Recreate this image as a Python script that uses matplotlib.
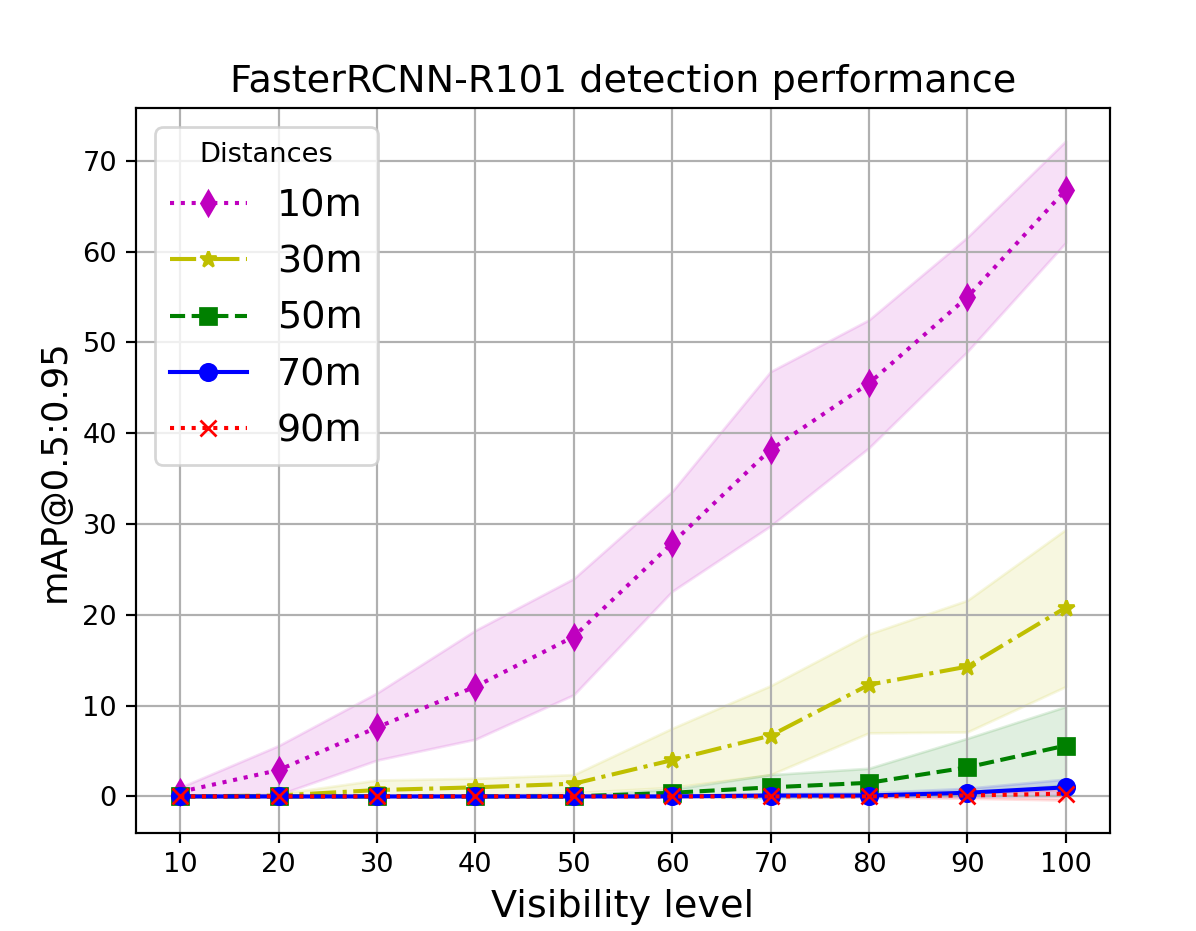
import numpy as np
import matplotlib
matplotlib.use("Agg")
import matplotlib.pyplot as plt

# visibility levels on the x axis
visibility = [10, 20, 30, 40, 50, 60, 70, 80, 90, 100]

# mean mAP@0.5:0.95 per distance, with the lower / upper edge of the shaded band
map_10m = [0.5, 2.9, 7.6, 12.1, 17.6, 27.9, 38.2, 45.5, 55.0, 66.8]
lo_10m = [0.0, 0.2, 4.0, 6.3, 11.2, 22.6, 29.8, 38.4, 49.0, 61.0]
hi_10m = [1.0, 5.6, 11.4, 18.3, 24.0, 33.6, 46.8, 52.5, 61.6, 72.2]

map_30m = [0.0, 0.1, 0.7, 1.0, 1.4, 4.0, 6.7, 12.3, 14.3, 20.8]
lo_30m = [0.0, 0.0, 0.0, 0.1, 0.4, 1.0, 2.4, 7.0, 7.1, 12.1]
hi_30m = [0.0, 0.3, 1.8, 2.0, 2.4, 7.5, 12.2, 17.9, 21.6, 29.4]

map_50m = [0.0, 0.0, 0.0, 0.0, 0.0, 0.4, 1.0, 1.5, 3.2, 5.6]
lo_50m = [0.0, 0.0, 0.0, 0.0, 0.0, 0.0, -0.2, 0.0, 0.2, 1.3]
hi_50m = [0.0, 0.0, 0.0, 0.0, 0.1, 0.8, 2.4, 3.1, 6.4, 9.9]

map_70m = [0.0, 0.0, 0.0, 0.0, 0.0, 0.0, 0.1, 0.1, 0.4, 1.0]
lo_70m = [0.0, 0.0, 0.0, 0.0, 0.0, 0.0, 0.0, 0.0, 0.0, 0.1]
hi_70m = [0.0, 0.0, 0.0, 0.0, 0.0, 0.1, 0.3, 0.4, 0.9, 1.9]

map_90m = [0.0, 0.0, 0.0, 0.0, 0.0, 0.0, 0.0, 0.0, 0.1, 0.3]
lo_90m = [0.0, 0.0, 0.0, 0.0, 0.0, 0.0, 0.0, -0.1, -0.2, -0.4]
hi_90m = [0.0, 0.0, 0.0, 0.0, 0.0, 0.0, 0.1, 0.2, 0.3, 0.8]

series = [
    ("10m", map_10m, lo_10m, hi_10m, "m", "d", ":"),
    ("30m", map_30m, lo_30m, hi_30m, "y", "*", "-."),
    ("50m", map_50m, lo_50m, hi_50m, "g", "s", "--"),
    ("70m", map_70m, lo_70m, hi_70m, "b", "o", "-"),
    ("90m", map_90m, lo_90m, hi_90m, "r", "x", ":"),
]

fig = plt.figure(figsize=(1196 / 196, 931 / 196), dpi=196)
ax = fig.add_axes([136 / 1196, 98 / 931, 974 / 1196, 725 / 931])

for lbl, m, lo, hi, c, mk, ls in series:
    ax.plot(visibility, m, color=c, marker=mk, ls=ls, label=lbl)
    ax.fill_between(visibility, lo, hi, color=c, alpha=0.12)

ax.set_xticks(visibility)
ax.grid(True)
ax.set_title("FasterRCNN-R101 detection performance", fontsize=14)
ax.set_xlabel("Visibility level", fontsize=14)
ax.set_ylabel("mAP@0.5:0.95", fontsize=13)
ax.legend(title="Distances", loc="upper left", fontsize=14, title_fontsize=10,
          labelspacing=0.53)

fig.savefig("out.png", dpi=196)
